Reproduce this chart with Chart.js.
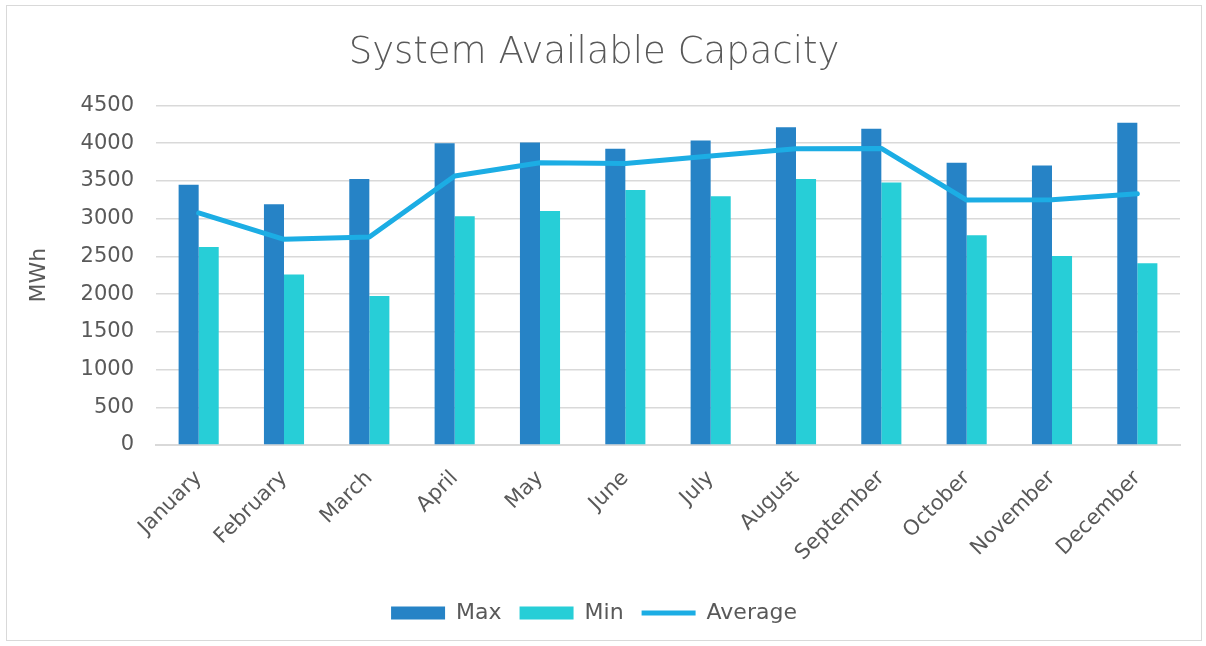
<!DOCTYPE html>
<html lang="en">
<head>
  <meta charset="UTF-8" />
  <title>System Available Capacity</title>
  <script src="https://cdn.jsdelivr.net/npm/chart.js"></script>
</head>
<style>
    body {
      margin: 0;
      background: #fff;
    }
    .wrap {
      position: relative;
      width: 1206px;
      height: 646px;
    }
    .frame {
      position: absolute;
      left: 6px;
      top: 5px;
      width: 1194px;
      height: 634px;
      border: 1px solid #d9d9d9;
      pointer-events: none;
    }
    #grafico {
      position: absolute;
      left: 0;
      top: 0;
    }
  </style>
<body>
  <div class="wrap">
    <canvas id="grafico" width="1206" height="646"></canvas>
    <div class="frame"></div>
  </div>
  <script>
    // data
    const months = ['January', 'February', 'March', 'April', 'May', 'June',
                    'July', 'August', 'September', 'October', 'November', 'December'];
    const maxValues = [3450, 3190, 3525, 4000, 4010, 3925, 4035, 4210, 4190, 3740, 3705, 4270];
    const minValues = [2625, 2260, 1975, 3030, 3100, 3380, 3295, 3525, 3480, 2780, 2505, 2410];
    const avgValues = [3075, 2725, 2755, 3565, 3740, 3730, 3830, 3925, 3930, 3245, 3250, 3330];

    const fontFamily = '"DejaVu Sans", sans-serif';
    const grey = '#595959';

    const ctx = document.getElementById('grafico').getContext('2d');
    new Chart(ctx, {
      data: {
        labels: months,
        datasets: [
          {
            type: 'bar',
            label: 'Max',
            data: maxValues,
            backgroundColor: '#2683c6',
            order: 1,
            pointStyle: 'rect'
          },
          {
            type: 'bar',
            label: 'Min',
            data: minValues,
            backgroundColor: '#27ced7',
            order: 1,
            pointStyle: 'rect'
          },
          {
            type: 'line',
            label: 'Average',
            data: avgValues,
            borderColor: '#1cade4',
            backgroundColor: '#1cade4',
            borderWidth: 5,
            borderCapStyle: 'round',
            borderJoinStyle: 'round',
            pointRadius: 0,
            tension: 0,
            order: 0,
            pointStyle: 'line'
          }
        ]
      },
      options: {
        responsive: false,
        animation: false,
        layout: {
          padding: { left: 8, right: 26, top: 0, bottom: 12 }
        },
        datasets: {
          bar: {
            categoryPercentage: 0.47,
            barPercentage: 1.0
          }
        },
        plugins: {
          title: {
            display: true,
            text: 'System Available Capacity',
            color: grey,
            font: { family: fontFamily, size: 37, weight: 200 },
            padding: { top: 31, bottom: 30 }
          },
          legend: {
            position: 'bottom',
            labels: {
              usePointStyle: true,
              pointStyleWidth: 54,
              boxHeight: 13,
              color: grey,
              font: { family: fontFamily, size: 22 },
              padding: 18,
              sort: (a, b) => a.datasetIndex - b.datasetIndex
            }
          },
          tooltip: { enabled: false }
        },
        scales: {
          x: {
            grid: { display: false, drawTicks: false },
            border: { color: '#d9d9d9', width: 2 },
            ticks: {
              color: grey,
              font: { family: fontFamily, size: 21 },
              minRotation: 45,
              maxRotation: 45,
              padding: 21
            },
            afterFit: (scale) => { scale.height = 139; }
          },
          y: {
            min: 0,
            max: 4500,
            grid: { color: '#d9d9d9', lineWidth: 1.5, drawTicks: false },
            border: { display: false },
            ticks: {
              stepSize: 500,
              color: grey,
              font: { family: fontFamily, size: 21 },
              padding: 22,
              callback: (v) => String(v)
            },
            title: {
              display: true,
              text: 'MWh',
              color: grey,
              font: { family: fontFamily, size: 22 },
              padding: { top: 18, bottom: 0 }
            },
            afterFit: (scale) => { scale.width = 148; }
          }
        }
      }
    });
  </script>
</body>
</html>
